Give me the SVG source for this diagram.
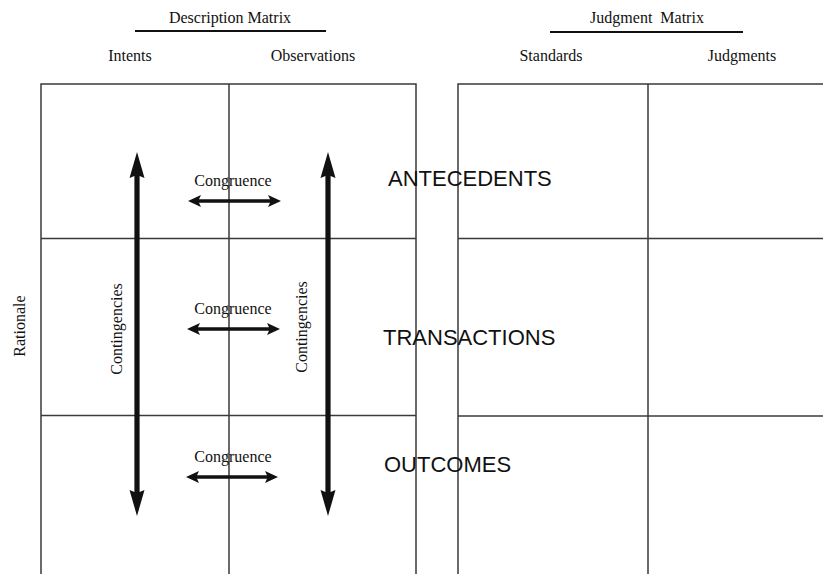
<svg xmlns="http://www.w3.org/2000/svg" width="823" height="574" viewBox="0 0 823 574">
<style>
.grid{stroke:#3a3a3a;stroke-width:1.5;fill:none}
.rule{stroke:#111;stroke-width:2.2}
.serif{font-family:"Liberation Serif","Times New Roman",serif;font-size:16px;fill:#111}
.sans{font-family:"Liberation Sans",Arial,sans-serif;font-size:22px;fill:#111}
.arr{fill:#111}
</style>
<rect width="823" height="574" fill="#fff"/>
<g id="headers">
<text class="serif" x="230" y="23" text-anchor="middle">Description Matrix</text>
<line class="rule" x1="135" y1="31" x2="326" y2="31"/>
<text class="serif" x="130" y="61" text-anchor="middle">Intents</text>
<text class="serif" x="313" y="61" text-anchor="middle">Observations</text>
<text class="serif" x="647" y="23" text-anchor="middle" xml:space="preserve">Judgment  Matrix</text>
<line class="rule" x1="550" y1="32" x2="743" y2="32"/>
<text class="serif" x="551" y="61" text-anchor="middle">Standards</text>
<text class="serif" x="742" y="61" text-anchor="middle">Judgments</text>
</g>
<g id="description-matrix">
<path class="grid" d="M41,574 V84 H416 V574 M229,84 V574 M41,238.5 H416 M41,415.5 H416"/>
</g>
<g id="judgment-matrix">
<path class="grid" d="M458,574 V84 H823 M648,84 V574 M458,238.5 H823 M458,416 H823"/>
</g>
<g id="rationale">
<text class="serif" transform="translate(25,326) rotate(-90)" text-anchor="middle">Rationale</text>
</g>
<g id="row-labels">
<text class="sans" x="388" y="186">ANTECEDENTS</text>
<text class="sans" x="383" y="345">TRANSACTIONS</text>
<text class="sans" x="384" y="472">OUTCOMES</text>
</g>
<g id="connectors">
<g id="contingencies-intents">
<path class="arr" d="M137,152 L144.5,178 L139.6,176 V492 L144.5,490 L137,516 L129.5,490 L134.4,492 V176 L129.5,178 Z"/>
<text class="serif" transform="translate(121.5,329) rotate(-90)" text-anchor="middle">Contingencies</text>
</g>
<g id="contingencies-observations">
<path class="arr" d="M328,152 L335.5,178 L330.6,176 V492 L335.5,490 L328,516 L320.5,490 L325.4,492 V176 L320.5,178 Z"/>
<text class="serif" transform="translate(307,327) rotate(-90)" text-anchor="middle">Contingencies</text>
</g>
<g id="congruence-antecedents">
<path class="arr" d="M188,201 L201,195 L199,199.2 H270 L268,195 L281,201 L268,207 L270,202.8 H199 L201,207 Z"/>
<text class="serif" x="233" y="186" text-anchor="middle">Congruence</text>
</g>
<g id="congruence-transactions">
<path class="arr" d="M187,329 L200,323 L198,327.2 H269 L267,323 L280,329 L267,335 L269,330.8 H198 L200,335 Z"/>
<text class="serif" x="233" y="314" text-anchor="middle">Congruence</text>
</g>
<g id="congruence-outcomes">
<path class="arr" d="M186,477 L199,471 L197,475.2 H267 L265,471 L278,477 L265,483 L267,478.8 H197 L199,483 Z"/>
<text class="serif" x="233" y="462" text-anchor="middle">Congruence</text>
</g>
</g>
</svg>
